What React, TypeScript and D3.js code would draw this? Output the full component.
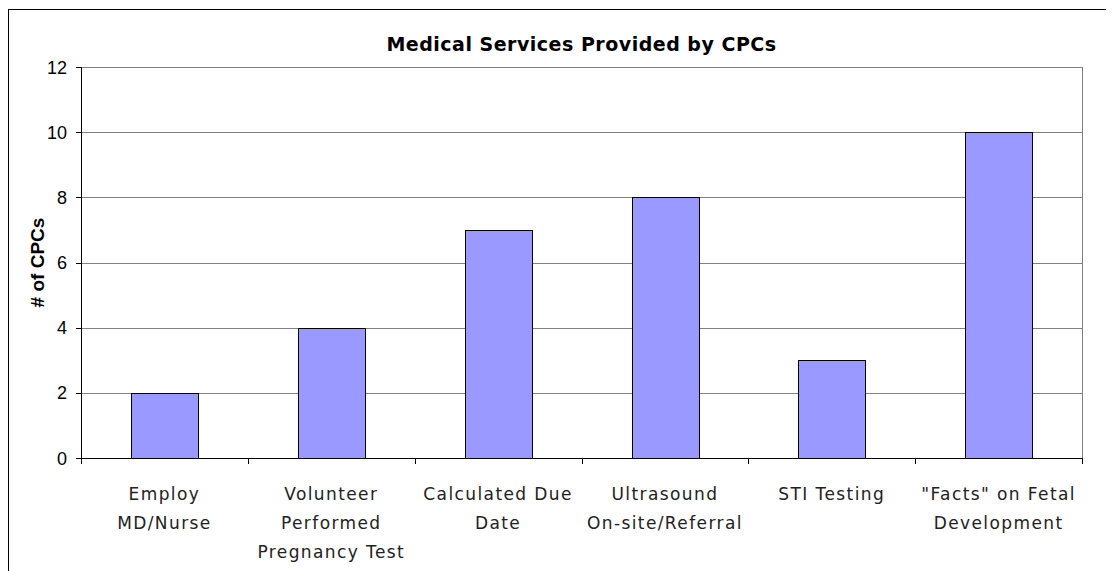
import React from 'react';
import * as d3 from 'd3';

const categories = [
  ['Employ', 'MD/Nurse'],
  ['Volunteer', 'Performed', 'Pregnancy Test'],
  ['Calculated Due', 'Date'],
  ['Ultrasound', 'On-site/Referral'],
  ['STI Testing'],
  ['"Facts" on Fetal', 'Development'],
];
const counts = [2, 4, 7, 8, 3, 10];
const yTicks = [0, 2, 4, 6, 8, 10, 12];

const width = 1106;
const height = 563;
const margin = { top: 59, right: 32, bottom: 113, left: 73 };

const App = () => {
  const keys = categories.map((c) => c.join(' '));
  const x = d3
    .scaleBand<string>()
    .domain(keys)
    .range([margin.left, width - margin.right])
    .paddingInner(0.6)
    .paddingOuter(0.3);
  const y = d3
    .scaleLinear()
    .domain([0, 12])
    .range([height - margin.bottom, margin.top]);

  const left = margin.left;
  const right = width - margin.right;
  const step = (right - left) / keys.length;
  const bottom = y(0);
  const top = y(12);

  const labelFont = '"DejaVu Sans", sans-serif';
  const tickFont = '"Liberation Sans", Arial, sans-serif';

  return (
    <svg width={width} height={height} style={{ display: 'block' }}>
      <rect x={0.5} y={1.5} width={width + 20} height={height + 20} fill="white" stroke="black" />
      <text
        x={(left + right) / 2}
        y={43}
        textAnchor="middle"
        fontFamily={labelFont}
        fontWeight="bold"
        fontSize={19}
        letterSpacing={0.5}
      >
        Medical Services Provided by CPCs
      </text>

      {/* gridlines */}
      {yTicks.map((t) => (
        <line key={t} x1={left} x2={right} y1={Math.round(y(t)) + 0.5} y2={Math.round(y(t)) + 0.5} stroke="#808080" />
      ))}
      <line x1={right + 0.5} x2={right + 0.5} y1={top} y2={bottom} stroke="#808080" />

      {/* bars */}
      {counts.map((v, i) => (
        <rect
          key={i}
          x={Math.round(x(keys[i])!) + 0.5}
          y={Math.round(y(v)) + 0.5}
          width={Math.round(x.bandwidth())}
          height={Math.round(bottom) - Math.round(y(v))}
          fill="#9999FF"
          stroke="black"
        />
      ))}

      {/* y axis */}
      <line x1={left + 0.5} x2={left + 0.5} y1={top} y2={bottom + 0.5} stroke="black" />
      {yTicks.map((t) => (
        <g key={t}>
          <line x1={left - 5} x2={left} y1={Math.round(y(t)) + 0.5} y2={Math.round(y(t)) + 0.5} stroke="black" />
          <text x={left - 14} y={y(t) + 6.5} textAnchor="end" fontFamily={tickFont} fontSize={18}>
            {t}
          </text>
        </g>
      ))}
      <text
        transform={`translate(${36},${(top + bottom) / 2}) rotate(-90)`}
        textAnchor="middle"
        fontFamily={tickFont}
        fontWeight="bold"
        fontSize={19}
      >
        # of CPCs
      </text>

      {/* x axis */}
      <line x1={left} x2={right + 1} y1={Math.round(bottom) + 0.5} y2={Math.round(bottom) + 0.5} stroke="black" />
      {d3.range(keys.length + 1).map((i) => (
        <line
          key={i}
          x1={Math.round(left + i * step) + 0.5}
          x2={Math.round(left + i * step) + 0.5}
          y1={bottom}
          y2={bottom + 6}
          stroke="black"
        />
      ))}
      {categories.map((lines, i) => (
        <text
          key={i}
          x={x(keys[i])! + x.bandwidth() / 2}
          y={bottom + 42}
          textAnchor="middle"
          fontFamily={labelFont}
          fontSize={17}
          letterSpacing={1.4}
          fill="#222"
        >
          {lines.map((l, j) => (
            <tspan key={j} x={x(keys[i])! + x.bandwidth() / 2} dy={j === 0 ? 0 : 29}>
              {l}
            </tspan>
          ))}
        </text>
      ))}
    </svg>
  );
};

export default App;
